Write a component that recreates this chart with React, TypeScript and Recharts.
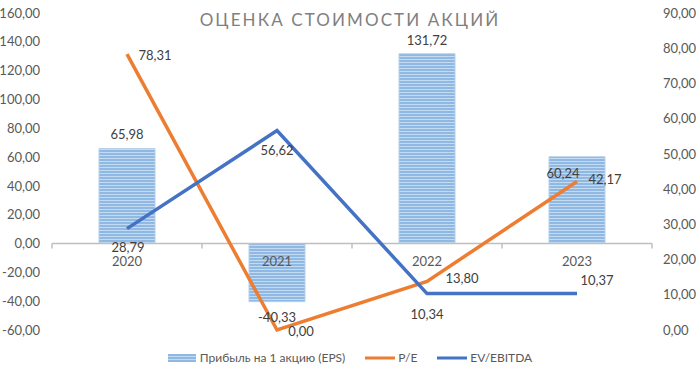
import React from 'react';
import { ComposedChart, Bar, Line, XAxis, YAxis, ReferenceLine, Legend, LabelList } from 'recharts';

const years = ['2020', '2021', '2022', '2023'];
const eps = [65.98, -40.33, 131.72, 60.24];
const pe = [78.31, 0.0, 13.8, 42.17];
const evEbitda = [28.79, 56.62, 10.34, 10.37];
const leftTicks = [-60, -40, -20, 0, 20, 40, 60, 80, 100, 120, 140, 160];
const rightTicks = [0, 10, 20, 30, 40, 50, 60, 70, 80, 90];

const data = years.map((y, i) => ({ year: y, eps: eps[i], pe: pe[i], ev: evEbitda[i] }));

const W = 700;
const H = 379;
const TOP = 13;
const PLOT_BOTTOM = 330;
const FONT = 'Lato, "Open Sans", sans-serif';
const TXT = '#595959';
const fmt = (v: number) => v.toFixed(2).replace('.', ',');

const zeroY = TOP + ((160 - 0) / 220) * (PLOT_BOTTOM - TOP);

const XTick = (props: any) => {
  const { x, payload, index } = props;
  const band = 150;
  return (
    <g>
      <line x1={x - band / 2} x2={x - band / 2} y1={zeroY} y2={zeroY + 5} stroke="#bfbfbf" strokeWidth={1.5} />
      {index === years.length - 1 && (
        <line x1={x + band / 2} x2={x + band / 2} y1={zeroY} y2={zeroY + 5} stroke="#bfbfbf" strokeWidth={1.5} />
      )}
      <text x={x} y={zeroY + 22} textAnchor="middle" fill={TXT} fontSize={13} fontFamily={FONT}>
        {payload.value}
      </text>
    </g>
  );
};

const makeLabel = (pos: (i: number) => { dx: number; dy: number; anchor?: string }) => (props: any) => {
  const { x, y, width, value, index } = props;
  const p = pos(index);
  const cx = width !== undefined ? x + width / 2 : x;
  return (
    <text x={cx + p.dx} y={y + p.dy} textAnchor={p.anchor || 'middle'} fill="#404040" fontSize={13} fontFamily={FONT}>
      {fmt(value)}
    </text>
  );
};

const epsLabel = (props: any) => {
  const { x, y, width, height, value, index } = props;
  const cx = x + width / 2;
  const top = Math.min(y, y + height);
  const bottom = Math.max(y, y + height);
  let ty: number;
  let tx = cx;
  if (index === 3) {
    tx = cx - 14;
    ty = top + 21;
  } else if (value >= 0) {
    ty = top - 9;
  } else {
    ty = bottom + 20;
  }
  return (
    <text x={tx} y={ty} textAnchor="middle" fill="#404040" fontSize={13} fontFamily={FONT}>
      {fmt(value)}
    </text>
  );
};

const peLabel = makeLabel((i) => [
  { dx: 28, dy: 6 },
  { dx: 24, dy: 6 },
  { dx: 35, dy: 2 },
  { dx: 28, dy: 3 },
][i]);

const evLabel = makeLabel((i) => [
  { dx: 1, dy: 23 },
  { dx: 0, dy: 24 },
  { dx: 0, dy: 25 },
  { dx: 20, dy: -8 },
][i]);

const LegendContent = () => (
  <div style={{ display: 'flex', justifyContent: 'center', alignItems: 'center', fontFamily: FONT, fontSize: 12, color: TXT }}>
    <span style={{ display: 'inline-flex', alignItems: 'center', marginRight: 20 }}>
      <svg width={28} height={8} style={{ marginRight: 4 }}>
        <rect x={0} y={0} width={28} height={8} fill="url(#stripes)" />
      </svg>
      Прибыль на 1 акцию (EPS)
    </span>
    <span style={{ display: 'inline-flex', alignItems: 'center', marginRight: 20 }}>
      <svg width={30} height={8} style={{ marginRight: 3 }}>
        <line x1={0} x2={30} y1={4} y2={4} stroke="#ed7d31" strokeWidth={3} />
      </svg>
      P/E
    </span>
    <span style={{ display: 'inline-flex', alignItems: 'center' }}>
      <svg width={30} height={8} style={{ marginRight: 3 }}>
        <line x1={0} x2={30} y1={4} y2={4} stroke="#4472c4" strokeWidth={3} />
      </svg>
      EV/EBITDA
    </span>
  </div>
);

export default function App() {
  return (
    <div style={{ position: 'absolute', left: 0, top: 0, width: W, height: H, background: '#fff' }}>
      <svg width={0} height={0} style={{ position: 'absolute' }}>
        <defs>
          <pattern id="stripes" width={4} height={3} patternUnits="userSpaceOnUse">
            <rect width={4} height={3} fill="#c3daf0" />
            <rect width={4} height={2} fill="#8fb8e2" />
          </pattern>
        </defs>
      </svg>
      <div
        style={{
          position: 'absolute',
          left: 0,
          top: 9,
          width: W,
          textAlign: 'center',
          fontFamily: FONT,
          fontSize: 17,
          letterSpacing: 2.1,
          color: '#7f7f7f',
          zIndex: 2,
        }}
      >
        ОЦЕНКА СТОИМОСТИ АКЦИЙ
      </div>
      <ComposedChart width={W} height={H} data={data} margin={{ top: TOP, right: 0, bottom: 0, left: 0 }}>
        <defs>
          <pattern id="stripes2" width={4} height={3} patternUnits="userSpaceOnUse">
            <rect width={4} height={3} fill="#c3daf0" />
            <rect width={4} height={2} fill="#8fb8e2" />
          </pattern>
        </defs>
        <XAxis
          dataKey="year"
          xAxisId="x"
          height={H - PLOT_BOTTOM - TOP + TOP}
          axisLine={false}
          tickLine={false}
          tick={<XTick />}
          interval={0}
        />
        <YAxis
          yAxisId="left"
          orientation="left"
          width={52}
          domain={[-60, 160]}
          ticks={leftTicks}
          tickFormatter={fmt}
          axisLine={false}
          tickLine={false}
          tickSize={0}
          tickMargin={12}
          tick={{ fill: TXT, fontSize: 13, fontFamily: FONT }}
          interval={0}
        />
        <YAxis
          yAxisId="right"
          orientation="right"
          width={48}
          domain={[0, 90]}
          ticks={rightTicks}
          tickFormatter={fmt}
          axisLine={false}
          tickLine={false}
          tickSize={0}
          tickMargin={11}
          tick={{ fill: TXT, fontSize: 13, fontFamily: FONT }}
          interval={0}
        />
        <ReferenceLine yAxisId="left" xAxisId="x" y={0} stroke="#bfbfbf" strokeWidth={1.5} />
        <Bar dataKey="eps" yAxisId="left" xAxisId="x" barSize={56} fill="url(#stripes2)" stroke="#b4d0ec" strokeWidth={1} isAnimationActive={false}>
          <LabelList dataKey="eps" content={epsLabel} />
        </Bar>
        <Line dataKey="pe" yAxisId="right" xAxisId="x" stroke="#ed7d31" strokeWidth={3.5} dot={false} isAnimationActive={false}>
          <LabelList dataKey="pe" content={peLabel} />
        </Line>
        <Line dataKey="ev" yAxisId="right" xAxisId="x" stroke="#4472c4" strokeWidth={3.5} dot={false} isAnimationActive={false}>
          <LabelList dataKey="ev" content={evLabel} />
        </Line>
        <Legend
          verticalAlign="middle"
          layout="horizontal"
          content={<LegendContent />}
          wrapperStyle={{ top: 350, left: 0, width: W }}
        />
      </ComposedChart>
    </div>
  );
}
